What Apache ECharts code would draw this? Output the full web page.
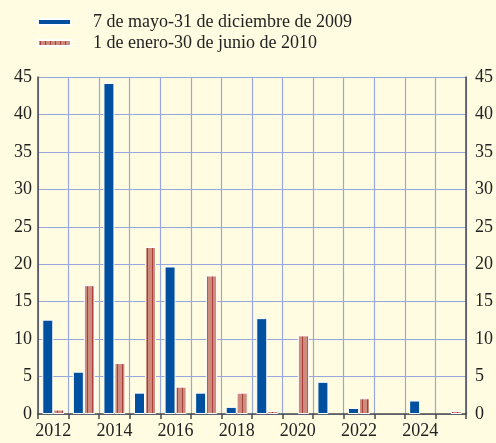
<!DOCTYPE html>
<html>
<head>
<meta charset="utf-8">
<script src="https://cdn.jsdelivr.net/npm/echarts@6/dist/echarts.min.js"></script>
<style>
html,body{margin:0;padding:0;background:#fffce1;}
#main{width:496px;height:443px;}
</style>
</head>
<body>
<div id="main"></div>
<script>
const categories = ['2012','2013','2014','2015','2016','2017','2018','2019','2020','2021','2022','2023','2024','2025'];
const series2009 = [12.6, 5.65, 44.2, 2.85, 19.7, 2.85, 0.95, 12.8, null, 4.3, 0.8, null, 1.8, null];
const series2010 = [0.6, 17.2, 6.8, 22.3, 3.65, 18.5, 2.85, 0.4, 10.5, null, 2.1, null, null, 0.4];
const seriesNames = ['7 de mayo-31 de diciembre de 2009', '1 de enero-30 de junio de 2010'];
const yTicks = [0, 5, 10, 15, 20, 25, 30, 35, 40, 45];

const pat = document.createElement('canvas');
pat.width = 5; pat.height = 4;
const pctx = pat.getContext('2d');
pctx.fillStyle = '#cd8c7e';
pctx.fillRect(0, 0, 5, 4);
pctx.fillStyle = '#a8403a';
pctx.fillRect(2, 0, 1, 4);

const chart = echarts.init(document.getElementById('main'), null, {renderer: 'canvas'});
const font = 'Liberation Serif';
const yAxisBase = {
  type: 'value', min: yTicks[0], max: yTicks[yTicks.length - 1], interval: 5,
  axisLine: {show: true, lineStyle: {color: '#4a4a4a', width: 1.5}},
  axisTick: {show: false},
  axisLabel: {fontFamily: font, fontSize: 18, color: '#222'}
};
chart.setOption({
  backgroundColor: '#fffce1',
  animation: false,
  legend: {
    orient: 'vertical', left: 37, top: 13, padding: 0,
    itemWidth: 33, itemHeight: 6, itemGap: 3,
    icon: 'rect',
    textStyle: {fontFamily: font, fontSize: 18, color: '#222', padding: [0, 0, 0, 17]},
    data: seriesNames
  },
  grid: {left: 38, right: 27, top: 77, bottom: 29},
  xAxis: {
    type: 'category', data: categories, boundaryGap: true, offset: 4,
    axisLine: {show: true, lineStyle: {color: '#4a4a4a', width: 1.5}},
    axisTick: {show: true, interval: 0, length: 5, inside: false, lineStyle: {color: '#4a4a4a', width: 1.5}},
    axisLabel: {interval: 1, fontFamily: font, fontSize: 18, color: '#222', margin: 4},
    splitLine: {show: true, interval: 0, lineStyle: {color: '#98a8de', width: 1.2}}
  },
  yAxis: [
    Object.assign({}, yAxisBase, {position: 'left', axisLabel: Object.assign({}, yAxisBase.axisLabel, {margin: 6}),
      splitLine: {show: true, lineStyle: {color: '#98a8de', width: 1.2}}}),
    Object.assign({}, yAxisBase, {position: 'right', axisLabel: Object.assign({}, yAxisBase.axisLabel, {margin: 9}),
      splitLine: {show: false}})
  ],
  series: [
    {name: seriesNames[0], type: 'bar', data: series2009, barWidth: 11, barGap: '0%',
     itemStyle: {color: '#00509f', borderColor: '#ffffff', borderWidth: 1}},
    {name: seriesNames[1], type: 'bar', data: series2010, barWidth: 11, barGap: '0%',
     itemStyle: {color: {image: pat, repeat: 'repeat'}, borderColor: '#ffffff', borderWidth: 1}}
  ]
});
</script>
</body>
</html>
